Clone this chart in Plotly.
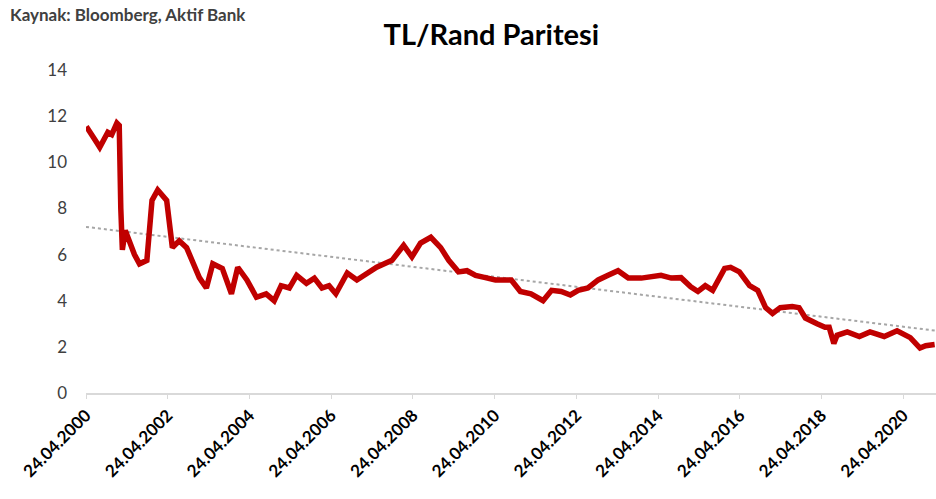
import plotly.graph_objects as go

dates = [
    "2000-04-24", "2000-05-10", "2000-07-10", "2000-08-25", "2000-11-05", "2000-12-10",
    "2001-01-25", "2001-02-15", "2001-03-01", "2001-03-15", "2001-04-10", "2001-05-20",
    "2001-07-01", "2001-08-15", "2001-09-20", "2001-10-20", "2001-11-20", "2001-12-05",
    "2002-01-25", "2002-03-01", "2002-04-15", "2002-06-05", "2002-08-05", "2002-10-10",
    "2002-12-01", "2003-02-01", "2003-04-05", "2003-06-01", "2003-08-25", "2003-11-15",
    "2004-01-10", "2004-04-01", "2004-06-25", "2004-09-20", "2004-12-01", "2005-02-01",
    "2005-04-15", "2005-06-20", "2005-09-15", "2005-11-25", "2006-02-01", "2006-04-05",
    "2006-06-05", "2006-09-15", "2006-12-10", "2007-03-25", "2007-06-05", "2007-10-20",
    "2008-02-01", "2008-04-15", "2008-07-01", "2008-10-01", "2008-12-28", "2009-03-10",
    "2009-06-05", "2009-08-20", "2009-11-05", "2010-02-01", "2010-05-01", "2010-09-20",
    "2010-12-10", "2011-03-15", "2011-07-01", "2011-09-15", "2011-12-10", "2012-03-01",
    "2012-05-10", "2012-08-05", "2012-11-05", "2013-02-01", "2013-05-01", "2013-08-01",
    "2013-11-25", "2014-05-20", "2014-08-20", "2014-11-15", "2015-02-10", "2015-04-15",
    "2015-06-20", "2015-08-25", "2015-12-10", "2016-02-01", "2016-04-20", "2016-07-20",
    "2016-10-01", "2016-12-10", "2017-02-10", "2017-04-20", "2017-08-05", "2017-10-05",
    "2017-12-01", "2018-03-15", "2018-05-25", "2018-07-01", "2018-08-12", "2018-09-10",
    "2018-12-10", "2019-03-28", "2019-07-01", "2019-11-05", "2020-02-28", "2020-06-25",
    "2020-09-20", "2020-11-10", "2021-01-29",
]
tl_rand = [
    11.4, 11.45, 11.0, 10.65, 11.3, 11.2,
    11.7, 11.6, 8.0, 6.2, 7.05, 6.5,
    6.0, 5.6, 5.7, 5.75, 7.5, 8.35,
    8.8, 8.6, 8.35, 6.3, 6.6, 6.3,
    5.75, 5.0, 4.55, 5.6, 5.4, 4.3,
    5.45, 4.9, 4.15, 4.3, 4.0, 4.65,
    4.55, 5.1, 4.75, 4.98, 4.55, 4.65,
    4.3, 5.2, 4.9, 5.25, 5.45, 5.75,
    6.4, 5.9, 6.5, 6.75, 6.3, 5.75,
    5.25, 5.3, 5.1, 5.0, 4.9, 4.9,
    4.4, 4.3, 4.0, 4.45, 4.4, 4.25,
    4.45, 4.55, 4.9, 5.1, 5.3, 4.98,
    4.98, 5.1, 4.98, 5.0, 4.6, 4.4,
    4.65, 4.45, 5.4, 5.45, 5.25, 4.65,
    4.45, 3.7, 3.45, 3.7, 3.75, 3.7,
    3.25, 3.0, 2.85, 2.85, 2.15, 2.5,
    2.65, 2.45, 2.65, 2.45, 2.7, 2.4,
    1.95, 2.05, 2.1,
]

trend_dates = ["2000-04-24", "2021-02-10"]
trend_values = [7.2, 2.7]

tick_dates = ["2000-04-24", "2002-04-24", "2004-04-24", "2006-04-24", "2008-04-24",
              "2010-04-24", "2012-04-24", "2014-04-24", "2016-04-24", "2018-04-24",
              "2020-04-24"]
tick_labels = ["24.04.2000", "24.04.2002", "24.04.2004", "24.04.2006", "24.04.2008",
               "24.04.2010", "24.04.2012", "24.04.2014", "24.04.2016", "24.04.2018",
               "24.04.2020"]
y_ticks = [0, 2, 4, 6, 8, 10, 12, 14]

FONT = "Lato"

fig = go.Figure()
fig.add_trace(go.Scatter(
    x=trend_dates, y=trend_values, mode="lines",
    line=dict(color="#a6a6a6", width=2, dash="dot"),
    hoverinfo="skip", showlegend=False,
))
fig.add_trace(go.Scatter(
    x=dates, y=tl_rand, mode="lines",
    line=dict(color="#c00000", width=5.5),
    showlegend=False,
))

fig.update_layout(
    width=936, height=499,
    margin=dict(l=86, r=0, t=70, b=106),
    paper_bgcolor="white", plot_bgcolor="white",
    font=dict(family=FONT, color="#404040"),
    title=dict(text="<b>TL/Rand Paritesi</b>", x=0.525, xanchor="center",
               y=1 - 35 / 499, yanchor="middle",
               font=dict(family=FONT, size=29, color="#000000")),
    annotations=[dict(
        text="<b>Kaynak: Bloomberg, Aktif Bank</b>", xref="paper", yref="paper",
        x=(8 - 86) / 850, y=1 + (70 - 14) / 323, xanchor="left", yanchor="middle",
        showarrow=False, font=dict(family=FONT, size=17, color="#404040"),
    )],
    xaxis=dict(
        type="date", range=["2000-04-24", "2021-02-10"],
        tickvals=tick_dates, ticktext=tick_labels, tickangle=-45,
        tickfont=dict(family=FONT, size=17, color="#000000", weight="bold"),
        showgrid=False, zeroline=False,
        showline=True, linecolor="#d9d9d9", linewidth=1.5,
        ticks="outside", ticklen=4, tickcolor="#d9d9d9",
    ),
    yaxis=dict(
        range=[0, 14], tickvals=y_ticks,
        tickfont=dict(family=FONT, size=17, color="#404040"),
        showgrid=False, zeroline=False, showline=False,
        ticklabelstandoff=18,
    ),
)

fig.write_html("out.html")
